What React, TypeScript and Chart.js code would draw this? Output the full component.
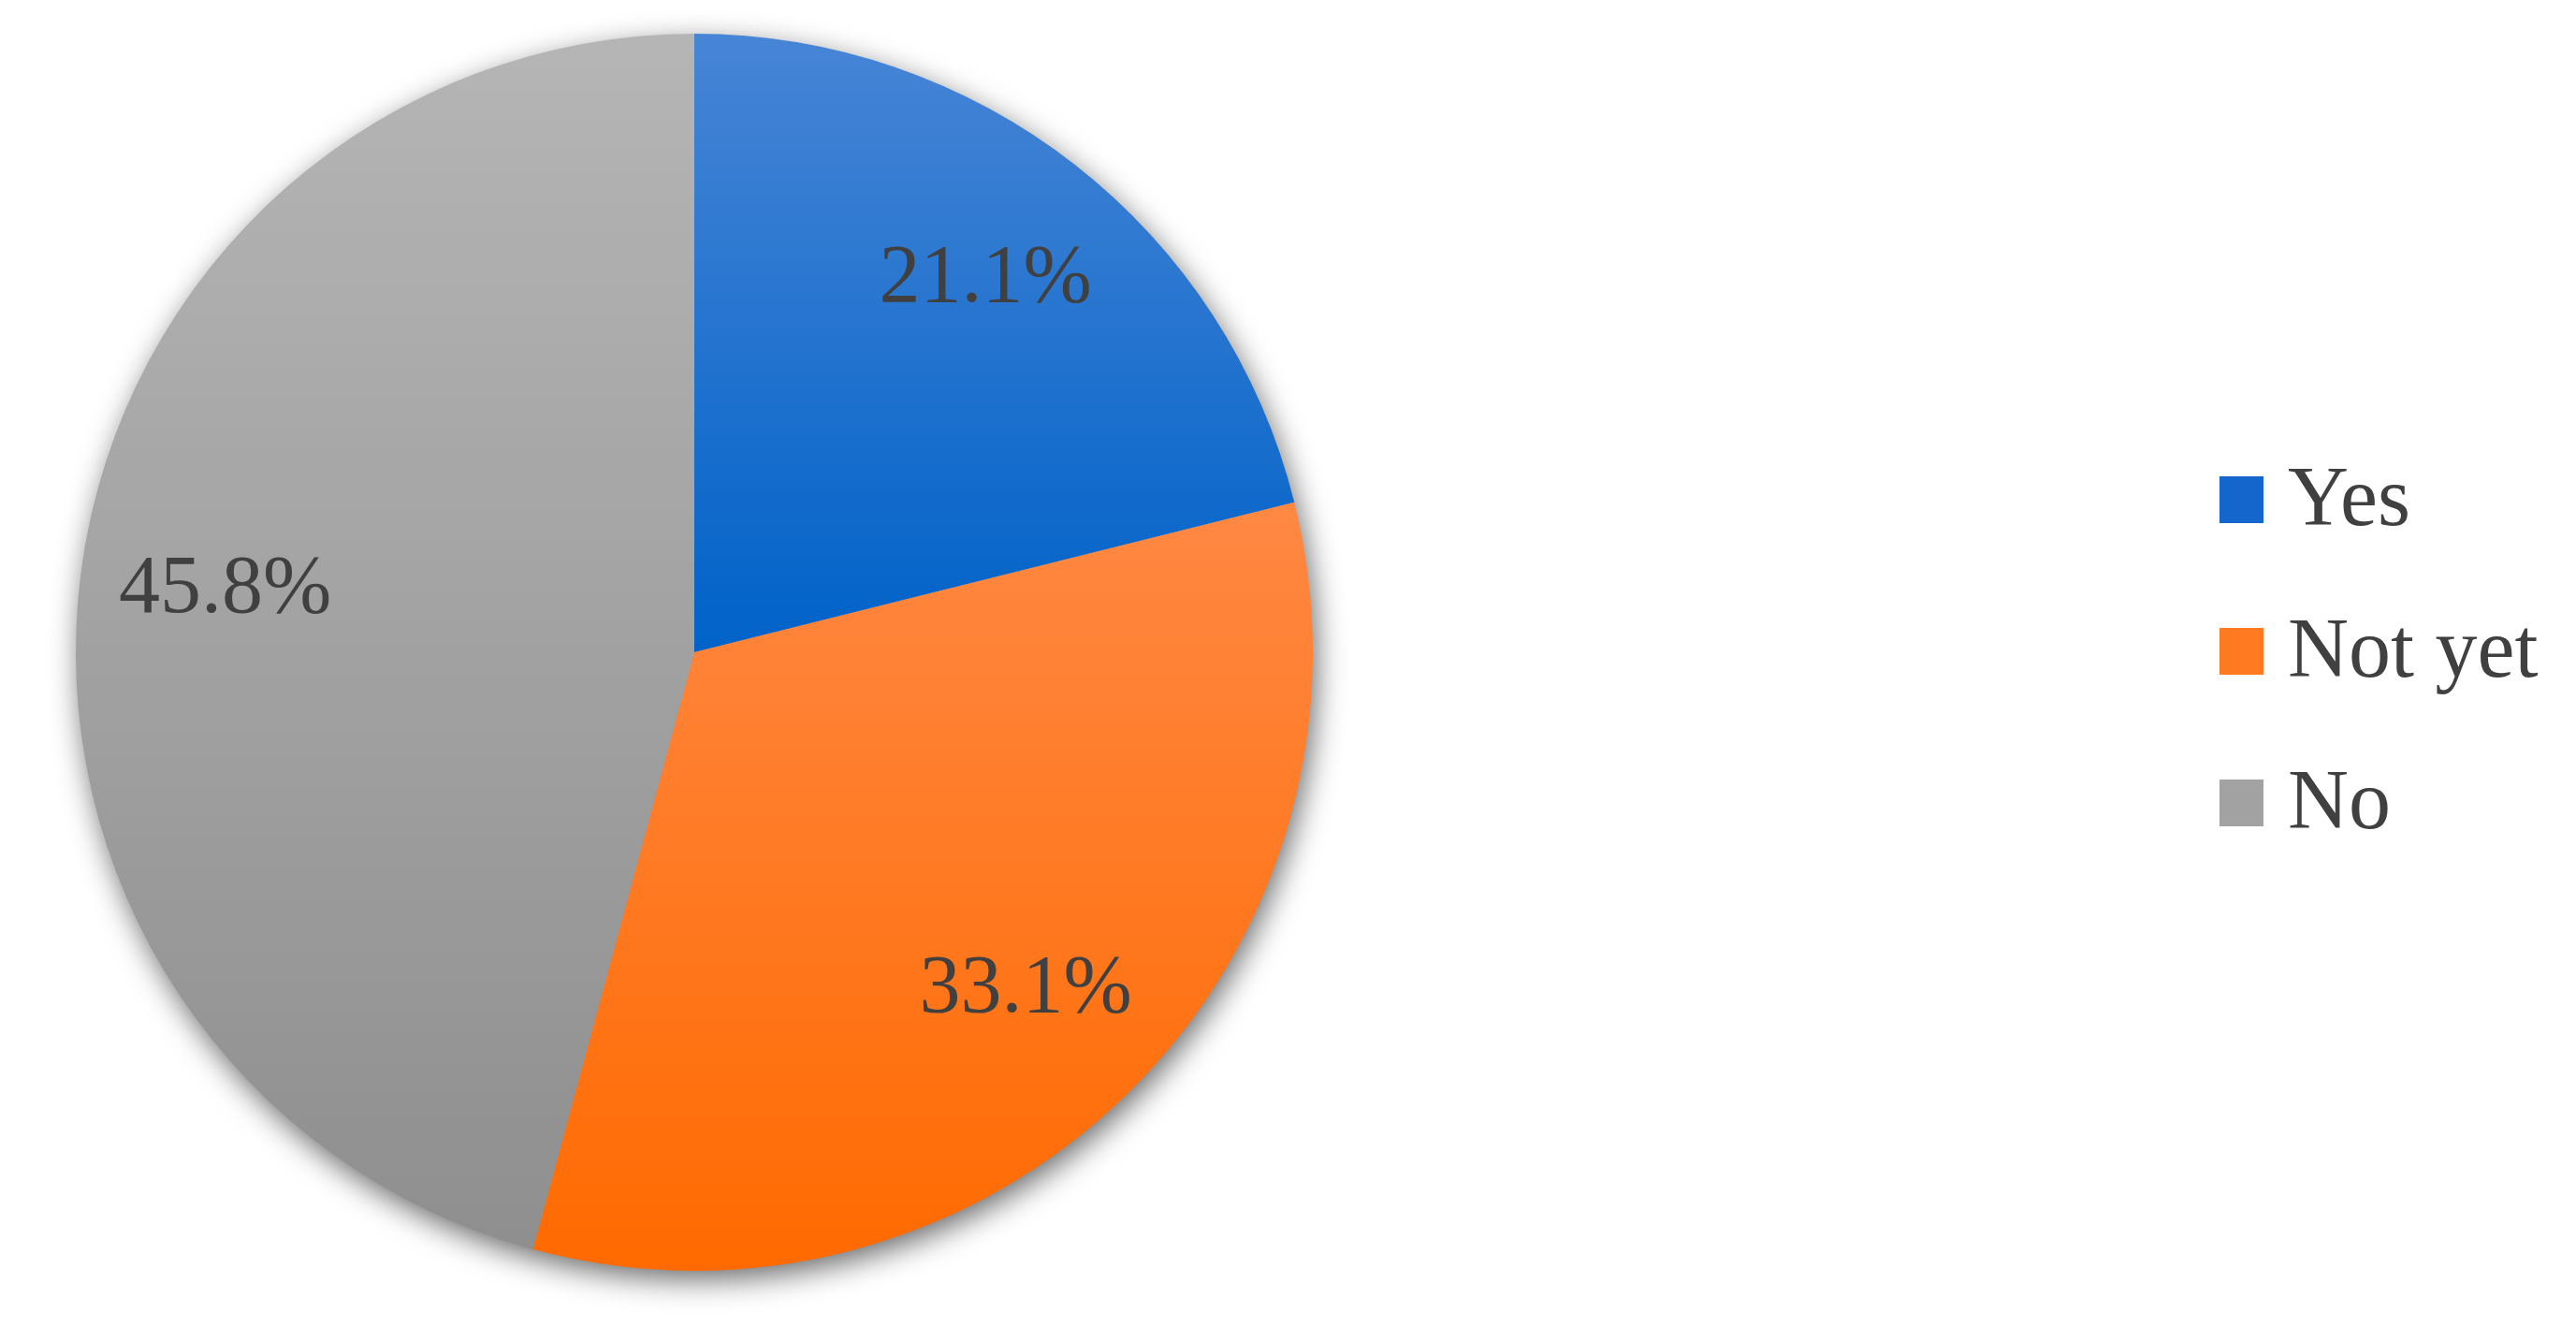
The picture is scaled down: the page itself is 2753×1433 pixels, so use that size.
import React, { useEffect, useRef } from "react";
import { Chart, registerables } from "chart.js";

Chart.register(...registerables);

const categories = ["Yes", "Not yet", "No"];
const values = [21.1, 33.1, 45.8];
const valueLabels = ["21.1%", "33.1%", "45.8%"];

// gradient stops [position, color] per slice, top -> bottom of pie
const gradientStops: [number, string][][] = [
  [[0, "#4785d6"], [0.5, "#0062c8"], [1, "#0052b8"]],
  [[0, "#ff9a60"], [0.3, "#ff8c4c"], [1, "#ff6a00"]],
  [[0, "#b5b5b5"], [1, "#8e8e8e"]],
];
const legendColors = ["#1566cc", "#ff7a20", "#a2a2a2"];

const FONT = "'Liberation Serif', 'Times New Roman', serif";

export default function App() {
  const ref = useRef<HTMLCanvasElement | null>(null);

  useEffect(() => {
    if (!ref.current) return;

    const shadowPlugin = {
      id: "pieShadow",
      beforeDatasetsDraw(chart: any) {
        const meta = chart.getDatasetMeta(0);
        const arc = meta.data[0];
        if (!arc) return;
        const { x, y, outerRadius } = arc.getProps(["x", "y", "outerRadius"], true);
        const ctx = chart.ctx;
        ctx.save();
        ctx.shadowColor = "rgba(0,0,0,0.6)";
        ctx.shadowBlur = 32;
        ctx.shadowOffsetX = 4;
        ctx.shadowOffsetY = 10;
        ctx.fillStyle = "#999";
        ctx.beginPath();
        ctx.arc(x, y, outerRadius - 1, 0, Math.PI * 2);
        ctx.fill();
        ctx.restore();
      },
    };

    const labelPlugin = {
      id: "labelsAndLegend",
      afterDraw(chart: any) {
        const ctx = chart.ctx;
        const meta = chart.getDatasetMeta(0);
        ctx.save();
        ctx.font = `88px ${FONT}`;
        ctx.fillStyle = "#404040";
        ctx.textAlign = "center";
        ctx.textBaseline = "middle";
        meta.data.forEach((arc: any, i: number) => {
          const p = arc.getProps(["x", "y", "startAngle", "endAngle", "outerRadius"], true);
          const mid = (p.startAngle + p.endAngle) / 2;
          const r = p.outerRadius * 0.765;
          ctx.fillText(valueLabels[i], p.x + Math.cos(mid) * r, p.y + Math.sin(mid) * r);
        });
        // legend
        const lx = 2364;
        const cy = 688;
        const gap = 162;
        ctx.font = `90px ${FONT}`;
        ctx.textAlign = "left";
        ctx.textBaseline = "middle";
        categories.forEach((c, i) => {
          const y = cy + (i - 1) * gap;
          ctx.fillStyle = legendColors[i];
          ctx.fillRect(lx, y - 25, 47, 50);
          ctx.fillStyle = "#404040";
          ctx.fillText(c, lx + 73, y + 3);
        });
        ctx.restore();
      },
    };

    const chart = new Chart(ref.current, {
      type: "pie",
      data: {
        labels: categories,
        datasets: [
          {
            data: values,
            borderWidth: 0,
            backgroundColor: (ctx: any) => {
              const ch = ctx.chart;
              const area = ch.chartArea;
              if (!area) return legendColors[ctx.dataIndex];
              const g = ch.ctx.createLinearGradient(0, area.top, 0, area.bottom);
              gradientStops[ctx.dataIndex].forEach(([p, c]) => g.addColorStop(p, c));
              return g;
            },
          },
        ],
      },
      options: {
        animation: false,
        responsive: false,
        maintainAspectRatio: false,
        layout: { padding: { left: 73, top: 28, right: 1342, bottom: 67 } },
        plugins: {
          legend: { display: false },
          tooltip: { enabled: false },
        },
      },
      plugins: [shadowPlugin, labelPlugin],
    });
    return () => chart.destroy();
  }, []);

  return (
    <div style={{ width: 2737, height: 1417, background: "#fff" }}>
      <canvas ref={ref} width={2737} height={1417} style={{ display: "block" }} />
    </div>
  );
}
